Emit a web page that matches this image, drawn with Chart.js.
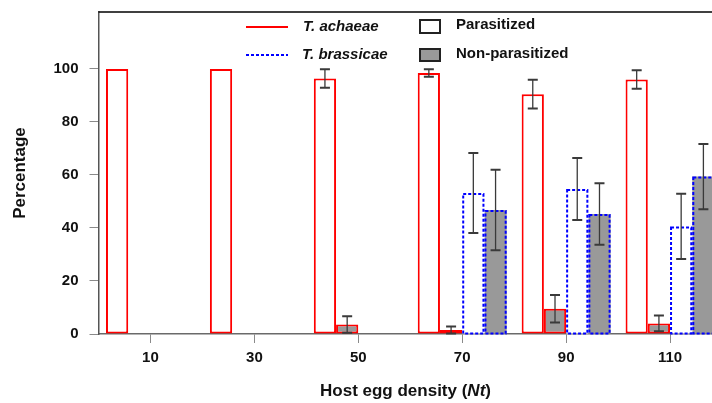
<!DOCTYPE html>
<html>
<head>
<meta charset="utf-8">
<script src="https://cdn.jsdelivr.net/npm/chart.js@4.4.1/dist/chart.umd.min.js"></script>
<style>
  html, body { margin: 0; padding: 0; background: #fff; overflow: hidden; }
  #wrap { position: relative; width: 724px; height: 403px; }
</style>
</head>
<body>
<div id="wrap"><canvas id="myChart"></canvas></div>
<script>
const categories = ['10', '30', '50', '70', '90', '110'];

// T. achaeae
const achaeaePar = [100, 100, 96.4, 98.5, 90.5, 96.0];
const achaeaeParErr = [null, null, 3.5, 1.4, 5.4, 3.5];
const achaeaeNon = [null, null, 3.6, 1.5, 9.5, 4.0];
const achaeaeNonErr = [null, null, 3.1, 1.3, 5.2, 3.0];

// T. brassicae
const brassicaePar = [null, null, null, 53.2, 54.7, 40.6];
const brassicaeParErr = [null, null, null, 15.1, 11.7, 12.3];
const brassicaeNon = [null, null, null, 46.8, 45.3, 59.4];
const brassicaeNonErr = [null, null, null, 15.2, 11.6, 12.3];

const yTicks = [0, 20, 40, 60, 80, 100];

const RED = '#ff0000';
const BLUE = '#0000ff';
const GREY = '#999999';
const FONT = "'Liberation Sans', Arial, sans-serif";

const overlay = {
    id: 'overlay',
    afterDatasetsDraw(chart) {
        const ctx = chart.ctx;
        const yScale = chart.scales.y;
        // dashed outline for T. brassicae bars
        chart.data.datasets.forEach((ds, i) => {
            if (!ds.dashed) return;
            const meta = chart.getDatasetMeta(i);
            meta.data.forEach((bar, j) => {
                if (ds.data[j] == null) return;
                const half = bar.width / 2;
                ctx.save();
                ctx.strokeStyle = BLUE;
                ctx.lineWidth = 2;
                ctx.setLineDash([3, 2]);
                ctx.strokeRect(bar.x - half + 1, bar.y + 1, bar.width - 2, bar.base - bar.y - 1);
                ctx.restore();
            });
        });
        // error bars
        chart.data.datasets.forEach((ds, i) => {
            const meta = chart.getDatasetMeta(i);
            meta.data.forEach((bar, j) => {
                const v = ds.data[j];
                const e = ds.errors[j];
                if (v == null || e == null) return;
                const yTop = yScale.getPixelForValue(v + e);
                const yBot = yScale.getPixelForValue(v - e);
                ctx.save();
                ctx.strokeStyle = '#3a3a3a';
                ctx.lineWidth = 1.3;
                ctx.beginPath();
                ctx.moveTo(bar.x, yTop);
                ctx.lineTo(bar.x, yBot);
                ctx.stroke();
                ctx.lineWidth = 2;
                ctx.beginPath();
                ctx.moveTo(bar.x - 5, yTop);
                ctx.lineTo(bar.x + 5, yTop);
                ctx.moveTo(bar.x - 5, yBot);
                ctx.lineTo(bar.x + 5, yBot);
                ctx.stroke();
                ctx.restore();
            });
        });
    },
    afterDraw(chart) {
        const ctx = chart.ctx;
        const area = chart.chartArea;
        ctx.save();
        // top frame line
        ctx.strokeStyle = '#000';
        ctx.lineWidth = 1.5;
        ctx.beginPath();
        ctx.moveTo(area.left, area.top);
        ctx.lineTo(area.right, area.top);
        ctx.stroke();

        // legend
        const lx = 246;
        ctx.lineWidth = 2;
        ctx.strokeStyle = RED;
        ctx.beginPath();
        ctx.moveTo(lx, 27);
        ctx.lineTo(lx + 42, 27);
        ctx.stroke();
        ctx.strokeStyle = BLUE;
        ctx.setLineDash([3, 2]);
        ctx.beginPath();
        ctx.moveTo(lx, 55);
        ctx.lineTo(lx + 42, 55);
        ctx.stroke();
        ctx.setLineDash([]);

        ctx.fillStyle = '#fff';
        ctx.fillRect(420, 20, 20, 13);
        ctx.fillStyle = GREY;
        ctx.fillRect(420, 49, 20, 12);
        ctx.strokeStyle = '#222';
        ctx.lineWidth = 2;
        ctx.strokeRect(420, 20, 20, 13);
        ctx.strokeRect(420, 49, 20, 12);

        ctx.fillStyle = '#111';
        ctx.textBaseline = 'middle';
        ctx.textAlign = 'left';
        ctx.font = 'italic bold 15px ' + FONT;
        ctx.fillText('T. achaeae', 303, 27);
        ctx.fillText('T. brassicae', 302, 55);
        ctx.font = 'bold 15px ' + FONT;
        ctx.fillText('Parasitized', 456, 25);
        ctx.fillText('Non-parasitized', 456, 54);

        // x axis title with italic Nt
        ctx.font = 'bold 17px ' + FONT;
        const p1 = 'Host egg density (';
        const p3 = ')';
        const w1 = ctx.measureText(p1).width;
        const w3 = ctx.measureText(p3).width;
        ctx.font = 'italic bold 17px ' + FONT;
        const p2 = 'Nt';
        const w2 = ctx.measureText(p2).width;
        let x = 405.5 - (w1 + w2 + w3) / 2;
        const ty = 391;
        ctx.font = 'bold 17px ' + FONT;
        ctx.fillText(p1, x, ty);
        x += w1;
        ctx.font = 'italic bold 17px ' + FONT;
        ctx.fillText(p2, x, ty);
        x += w2;
        ctx.font = 'bold 17px ' + FONT;
        ctx.fillText(p3, x, ty);
        ctx.restore();
    }
};

const ctx = document.getElementById('myChart').getContext('2d');
const myChart = new Chart(ctx, {
    type: 'bar',
    data: {
        labels: categories,
        datasets: [
            {
                label: 'T. achaeae Parasitized',
                data: achaeaePar,
                errors: achaeaeParErr,
                backgroundColor: '#ffffff',
                borderColor: RED,
                borderWidth: 2,
                borderSkipped: false
            },
            {
                label: 'T. achaeae Non-parasitized',
                data: achaeaeNon,
                errors: achaeaeNonErr,
                backgroundColor: GREY,
                borderColor: RED,
                borderWidth: 2,
                borderSkipped: false
            },
            {
                label: 'T. brassicae Parasitized',
                data: brassicaePar,
                errors: brassicaeParErr,
                dashed: true,
                backgroundColor: '#ffffff',
                borderWidth: 0
            },
            {
                label: 'T. brassicae Non-parasitized',
                data: brassicaeNon,
                errors: brassicaeNonErr,
                dashed: true,
                backgroundColor: GREY,
                borderWidth: 0
            }
        ]
    },
    options: {
        responsive: true,
        maintainAspectRatio: false,
        animation: false,
        layout: { padding: { top: 12, right: 2, left: 0, bottom: 0 } },
        plugins: {
            legend: { display: false },
            tooltip: { enabled: false }
        },
        datasets: {
            bar: { categoryPercentage: 0.856, barPercentage: 1.0 }
        },
        scales: {
            x: {
                afterFit: scale => {
                    scale.height = 69;
                    scale.paddingLeft = 0;
                    scale.paddingRight = 0;
                },
                border: { display: true, color: '#6a6a6a', width: 1.5 },
                grid: {
                    display: true,
                    offset: false,
                    drawOnChartArea: false,
                    drawTicks: true,
                    tickLength: 9,
                    color: '#8a8a8a',
                    lineWidth: 1
                },
                ticks: {
                    color: '#111',
                    padding: 6,
                    maxRotation: 0,
                    font: { family: FONT, size: 15, weight: 'bold' }
                }
            },
            y: {
                min: 0,
                max: 121.5,
                afterFit: scale => {
                    scale.width = 98.5;
                    scale.paddingTop = 0;
                    scale.paddingBottom = 0;
                },
                afterBuildTicks: scale => {
                    scale.ticks = yTicks.map(v => ({ value: v }));
                },
                border: { display: true, color: '#555', width: 1.5 },
                grid: {
                    display: true,
                    drawOnChartArea: false,
                    drawTicks: true,
                    tickLength: 9,
                    color: '#8a8a8a',
                    lineWidth: 1
                },
                ticks: {
                    color: '#111',
                    padding: 11,
                    font: { family: FONT, size: 15, weight: 'bold' }
                },
                title: {
                    display: true,
                    text: 'Percentage',
                    color: '#111',
                    padding: { top: 10, bottom: 0 },
                    font: { family: FONT, size: 17, weight: 'bold' }
                }
            }
        }
    },
    plugins: [overlay]
});
</script>
</body>
</html>
